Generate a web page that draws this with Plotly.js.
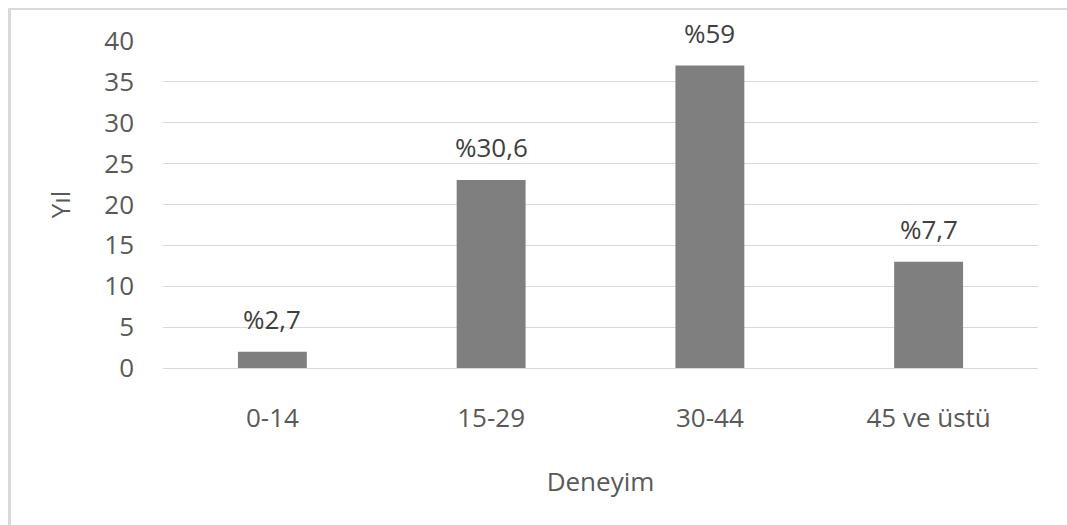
<!DOCTYPE html>
<html>
<head>
<meta charset="utf-8">
<script src="https://cdn.plot.ly/plotly-3.0.1.min.js"></script>
<style>
  html, body { margin: 0; padding: 0; background: #fff; }
  #wrap { position: relative; width: 1067px; height: 525px; overflow: hidden; }
  #chart { position: absolute; left: 0; top: 0; width: 1067px; height: 525px; }
  #frame { position: absolute; left: 8px; top: 8px; width: 1200px; height: 600px;
           border-top: 2px solid #d9d9d9; border-left: 3px solid #d9d9d9; pointer-events: none; }
</style>
</head>
<body>
<div id="wrap">
  <div id="chart"></div>
  <div id="frame"></div>
</div>
<script>
const categories = ["0-14", "15-29", "30-44", "45 ve üstü"];
const years = [2, 23, 37, 13];
const percentLabels = ["%2,7", "%30,6", "%59", "%7,7"];
const yTickValues = [0, 5, 10, 15, 20, 25, 30, 35, 40];

const FONT = "Open Sans, Noto Sans, sans-serif";

const trace = {
  type: "bar",
  x: categories,
  y: years,
  marker: { color: "#7f7f7f", line: { width: 0 } },
  hoverinfo: "skip"
};

const annotations = categories.map((c, i) => ({
  x: c, y: years[i], xref: "x", yref: "y",
  text: percentLabels[i], showarrow: false,
  yanchor: "bottom", yshift: 13,
  font: { family: FONT, size: 26, color: "#404040" }
}));

const layout = {
  width: 1067, height: 525,
  margin: { l: 163, r: 29, t: 41, b: 157 },
  paper_bgcolor: "#ffffff",
  plot_bgcolor: "#ffffff",
  bargap: 0.685,
  showlegend: false,
  font: { family: FONT, size: 26, color: "#595959" },
  xaxis: {
    type: "category",
    showgrid: false,
    showline: true, linecolor: "#d9d9d9", linewidth: 1,
    ticks: "", ticklabelstandoff: 27,
    tickfont: { family: FONT, size: 26, color: "#595959" },
    title: { text: "Deneyim", standoff: 38, font: { family: FONT, size: 26, color: "#595959" } }
  },
  yaxis: {
    range: [0, 40],
    tickvals: yTickValues,
    ticktext: yTickValues.map(String),
    showgrid: true, gridcolor: "#d9d9d9", gridwidth: 1,
    zeroline: false, showline: false,
    ticks: "", ticklabelstandoff: 28,
    tickfont: { family: FONT, size: 26, color: "#595959" },
    title: { text: "Yıl", standoff: 26, font: { family: FONT, size: 26, color: "#595959" } }
  },
  annotations: annotations
};

Plotly.newPlot("chart", [trace], layout, { staticPlot: true, displayModeBar: false });
</script>
</body>
</html>
